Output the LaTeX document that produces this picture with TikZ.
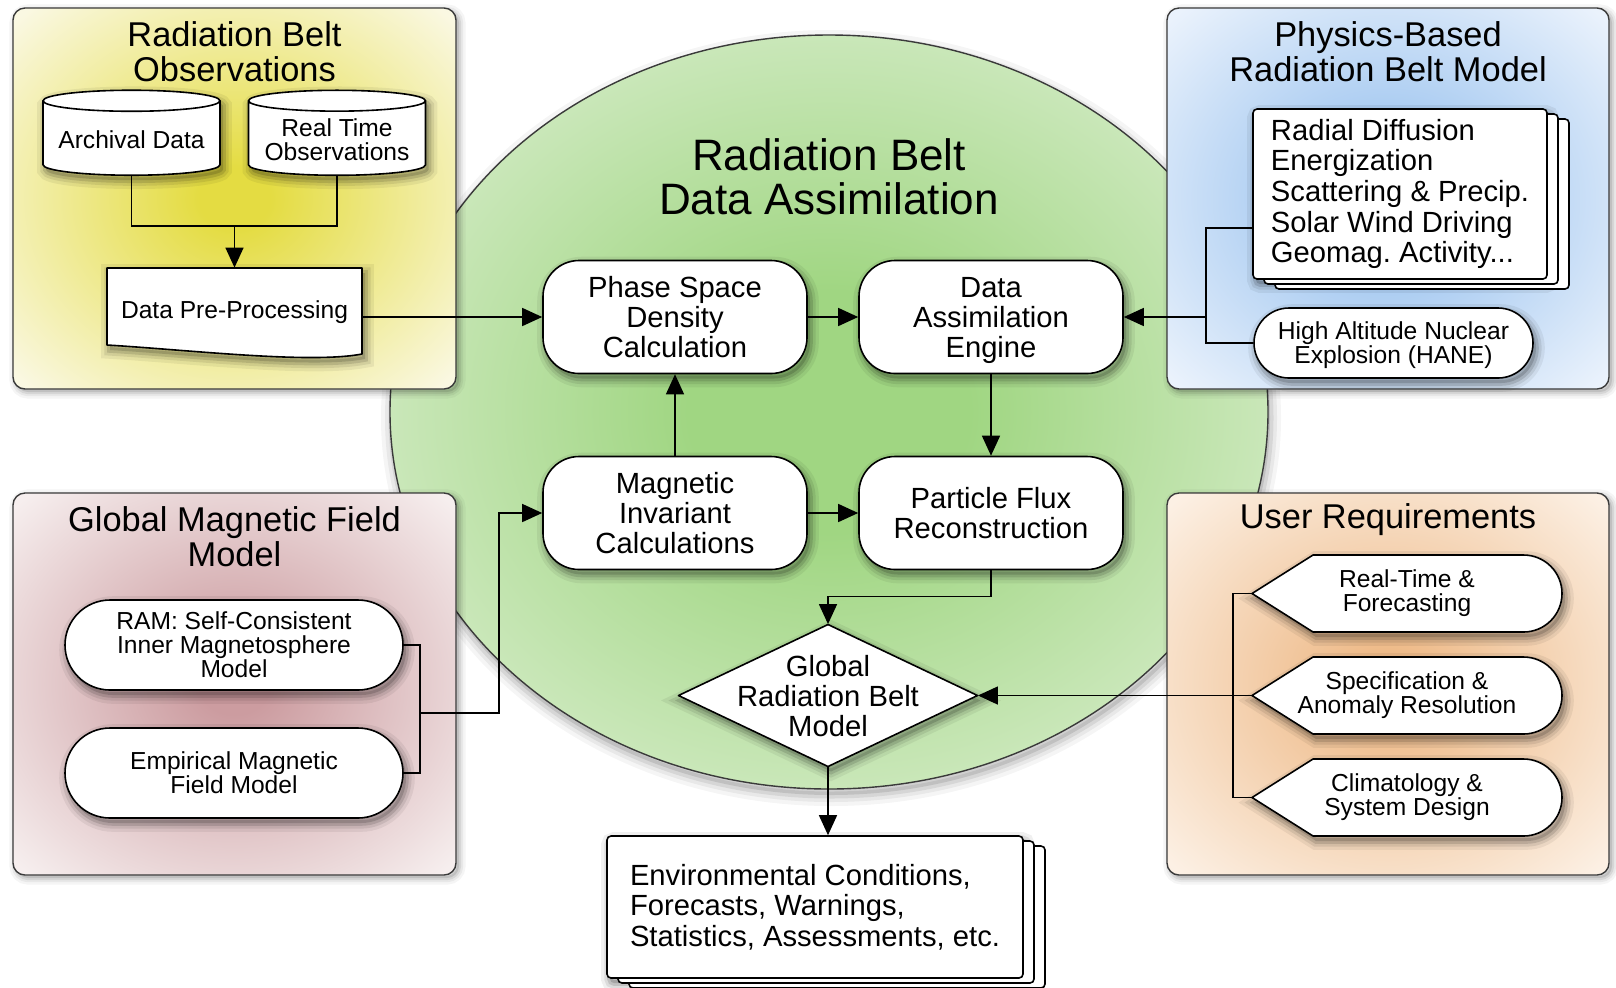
\documentclass[tikz,border=0pt]{standalone}
\usepackage{fontspec}
\setmainfont{Liberation Sans}
\frenchspacing
\usetikzlibrary{arrows.meta,calc,shapes.geometric,shadows}

\definecolor{edge}{HTML}{3A3A3A}
\definecolor{obsin}{RGB}{228,220,66}
\definecolor{obsout}{RGB}{250,248,226}
\definecolor{physin}{RGB}{150,192,238}
\definecolor{physout}{RGB}{234,242,252}
\definecolor{magin}{RGB}{204,156,160}
\definecolor{magout}{RGB}{246,238,238}
\definecolor{usrin}{RGB}{238,186,136}
\definecolor{usrout}{RGB}{252,240,228}
\definecolor{beltin}{RGB}{160,214,130}
\definecolor{beltout}{RGB}{228,242,220}

\pgfdeclareradialshading{obsshade}{\pgfpoint{0bp}{0bp}}{color(0bp)=(obsin); color(4bp)=(obsin); color(34bp)=(obsout); color(50bp)=(obsout)}
\pgfdeclareradialshading{physshade}{\pgfpoint{0bp}{0bp}}{color(0bp)=(physin); color(4bp)=(physin); color(34bp)=(physout); color(50bp)=(physout)}
\pgfdeclareradialshading{magshade}{\pgfpoint{0bp}{0bp}}{color(0bp)=(magin); color(4bp)=(magin); color(34bp)=(magout); color(50bp)=(magout)}
\pgfdeclareradialshading{usrshade}{\pgfpoint{0bp}{0bp}}{color(0bp)=(usrin); color(4bp)=(usrin); color(34bp)=(usrout); color(50bp)=(usrout)}
\pgfdeclareradialshading{beltshade}{\pgfpoint{0bp}{0bp}}{color(0bp)=(beltin); color(8bp)=(beltin); color(36bp)=(beltout); color(50bp)=(beltout)}

\tikzset{
  sml/.style={font=\fontsize{12.3}{12.0}\selectfont},
  mid/.style={font=\fontsize{14.6}{15.0}\selectfont},
  stk/.style={font=\fontsize{14.6}{15.3}\selectfont},
  ttl/.style={align=center,font=\fontsize{17.2}{17.4}\selectfont},
  bigttl/.style={align=center,font=\fontsize{22}{22.2}\selectfont},
  evenbox/.style={text depth=0pt},
  % soft shadow: x shift, y shift, spread, strength
  softshadow/.style n args={4}{
    preaction={draw=black,draw opacity=#4*0.4,line width=#3*2.2,
      transform canvas={shift={(#1,#2)}}},
    preaction={draw=black,draw opacity=#4*0.55,line width=#3*1.4,
      transform canvas={shift={(#1,#2)}}},
    preaction={draw=black,draw opacity=#4*0.8,line width=#3*0.7,
      transform canvas={shift={(#1,#2)}}},
    preaction={fill=black,fill opacity=#4,
      transform canvas={shift={(#1,#2)}}}},
  nshadow/.style={softshadow={1.5pt}{-2.5pt}{4pt}{0.15}},
  panel/.style={draw=edge,line width=0.7pt,rounded corners=6pt,
    softshadow={1.5pt}{-1.5pt}{3pt}{0.1}},
  beltline/.style={draw=edge,line width=0.7pt,softshadow={1pt}{-3pt}{5pt}{0.1}},
  termbox/.style={draw=black,line width=0.8pt,fill=white,nshadow,
    align=center,inner sep=0pt,evenbox},
  dbbox/.style={cylinder,shape border rotate=90,aspect=0.14,draw=black,
    line width=0.8pt,fill=white,minimum width=88.5pt,minimum height=42.5pt,
    inner sep=1pt,align=center,sml,nshadow},
  stackbox/.style={draw=black,line width=0.8pt,fill=white,rounded corners=2pt,
    nshadow,
    copy shadow={shadow xshift=11pt,shadow yshift=-5pt,fill=white,draw=black},
    copy shadow={shadow xshift=5.5pt,shadow yshift=-2.5pt,fill=white,draw=black},
    align=left,inner sep=0pt,stk},
  plain/.style={inner sep=0pt,align=center},
  shapeline/.style={draw=black,line width=0.8pt,fill=white,line join=round,nshadow},
  conn/.style={line width=0.7pt,black},
}

\begin{document}
\begin{tikzpicture}[x=0.5pt,y=-0.5pt,>={Triangle[length=10pt,width=9pt]}]
\useasboundingbox (0,0) rectangle (1616,987);

% containers
\shadedraw[beltline,shading=beltshade] (829,412) ellipse [x radius=219.5pt,y radius=188.5pt];
\shadedraw[panel,shading=obsshade] (13,8) rectangle (456,389);
\shadedraw[panel,shading=physshade] (1167,8) rectangle (1609,389);
\shadedraw[panel,shading=magshade] (13,493) rectangle (456,875);
\shadedraw[panel,shading=usrshade] (1167,493) rectangle (1609,875);

% titles
\node[bigttl] (datitle) at (829,177) {Radiation Belt\\Data Assimilation};
\node[ttl] (obstitle) at (234.5,52) {Radiation Belt\\Observations};
\node[ttl] (phystitle) at (1388,52) {Physics-Based\\Radiation Belt Model};
\node[ttl] (magtitle) at (234.5,537) {Global Magnetic Field\\Model};
\node[ttl] (usrtitle) at (1388,520) {User Requirements};

% observations
\node[dbbox] (arc) at (131.5,139.5) {Archival Data};
\node[dbbox] (rto) at (337,139.5) {Real Time\\Observations};
\coordinate (prec) at (234.5,306.5);
\draw[shapeline] ($(prec)+(-127.5,-38.5)$) -- ($(prec)+(127.5,-38.5)$) -- ($(prec)+(127.5,47.5)$)
  .. controls +(-52,10) and +(83,5) .. ($(prec)+(-127.5,38.5)$) -- cycle;
\node[plain,evenbox,sml,minimum width=127.5pt,minimum height=42pt] (pre) at (234.5,310) {Data Pre-Processing};

% physics-based model
\node[stackbox,minimum width=147pt,minimum height=85pt] (phys) at (1400,194)
  {Radial Diffusion\\Energization\\Scattering \& Precip.\\Solar Wind Driving\\Geomag. Activity...};
\node[termbox,sml,minimum width=139.5pt,minimum height=35pt,rounded corners=17.5pt] (hane) at (1393.5,343)
  {High Altitude Nuclear\\Explosion (HANE)};

% magnetic field models
\node[termbox,sml,minimum width=169pt,minimum height=45pt,rounded corners=22.5pt] (ram) at (234,645)
  {RAM: Self-Consistent\\Inner Magnetosphere\\Model};
\node[termbox,sml,minimum width=169pt,minimum height=45pt,rounded corners=22.5pt] (emp) at (234,773)
  {Empirical Magnetic\\Field Model};

% assimilation core
\node[termbox,mid,minimum width=132pt,minimum height=56.5pt,rounded corners=18pt] (psd) at (675,317)
  {Phase Space\\Density\\Calculation};
\node[termbox,mid,minimum width=132pt,minimum height=56.5pt,rounded corners=18pt] (dae) at (991,317)
  {Data\\Assimilation\\Engine};
\node[termbox,mid,minimum width=132pt,minimum height=56.5pt,rounded corners=18pt] (miv) at (675,513)
  {Magnetic\\Invariant\\Calculations};
\node[termbox,mid,minimum width=132pt,minimum height=56.5pt,rounded corners=18pt] (pfr) at (991,513)
  {Particle Flux\\Reconstruction};
\draw[shapeline] (828,624.5) -- (977.5,695.5) -- (828,766.5) -- (678.5,695.5) -- cycle;
\node[plain,evenbox,mid,minimum width=149.5pt,minimum height=71pt] (grb) at (828,695.5)
  {Global\\Radiation Belt\\Model};
\node[stackbox,minimum width=208pt,minimum height=71pt] (outc) at (815,907)
  {Environmental Conditions,\\Forecasts, Warnings,\\Statistics, Assessments, etc.};

% user requirements
\foreach \n/\y/\t in {rtf/593.5/{Real-Time \&\\Forecasting},
    spa/695.5/{Specification \&\\Anomaly Resolution},
    cls/797.5/{Climatology \&\\System Design}}{
  \draw[shapeline] (1252,\y) -- (1313,\y-38.5) -- (1523.5,\y-38.5)
    arc[start angle=90,end angle=-90,radius=19.25pt] -- (1313,\y+38.5) -- cycle;
  \node[plain,sml,minimum width=155pt,minimum height=38.5pt] (\n) at (1407,\y) {\t};
}

% connectors
\coordinate (obsj) at (234.5,226);
\draw[conn] (arc.south) |- (obsj) -| (rto.south);
\draw[conn,->] (obsj) -- (pre.north);
\draw[conn,->] (pre.east |- psd.west) -- (psd.west);
\draw[conn,->] (psd) -- (dae);
\draw[conn,->] (miv) -- (psd);
\draw[conn,->] (miv) -- (pfr);
\draw[conn,->] (dae) -- (pfr);
\draw[conn,->] (pfr.south) -- ++(0,26) -| (grb.north);
\draw[conn,->] (grb.south) -- (grb.south |- outc.north);

\coordinate (pbm) at (1206,317);
\draw[conn] ([yshift=-17pt]phys.west) -| (pbm) |- (hane.west);
\draw[conn,->] (pbm) -- (dae.east);

\coordinate (gmj) at (420,713);
\draw[conn] (ram.east) -| (gmj) |- (emp.east);
\draw[conn,->] (gmj) -- ++(79,0) |- (miv.west);

\coordinate (urj) at (1233,695.5);
\draw[conn] (rtf.west) -| (urj) |- (cls.west);
\draw[conn,->] (spa.west) -- (grb.east);
\end{tikzpicture}
\end{document}
